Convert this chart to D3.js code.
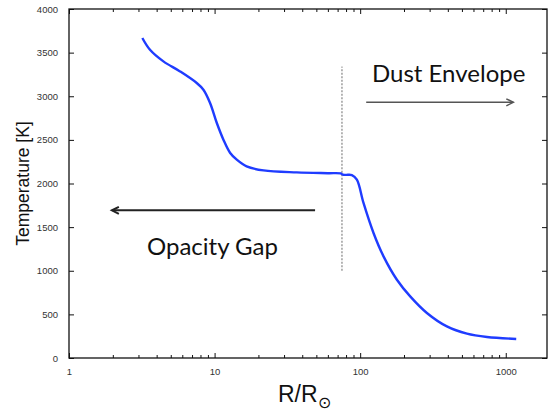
<!DOCTYPE html>
<html lang="en">
<head>
<meta charset="UTF-8">
<title>Temperature profile</title>
<script src="https://cdn.jsdelivr.net/npm/d3@7"></script>
<style>
  body { margin: 0; background: #fff; }
  svg text { font-family: "Liberation Sans", Arial, sans-serif; }
</style>
</head>
<body>
<script>
// radius (R/Rsun) and temperature (K)
const radius = [3.19, 3.6, 4.45, 5.79, 7.54, 8.38, 9.31, 10.36, 11.5, 12.8, 14.2, 16.6, 21.7, 36.7, 60, 73.5,
                76, 80, 87.7, 94.9, 105.4, 123.5, 144.7, 178.8, 220.6, 287.3, 394, 541, 743, 1180];
const temperature = [3668, 3533, 3400, 3285, 3152, 3075, 2923, 2693, 2502, 2350, 2273, 2196, 2150, 2127, 2118, 2115,
                     2101, 2099, 2097, 2044, 1777, 1433, 1165, 897, 706, 516, 362, 279, 241, 218];

const xMajor = [1, 10, 100, 1000];
const yTicks = [0, 500, 1000, 1500, 2000, 2500, 3000, 3500, 4000];

let width = 550;
let height = 412;
let margin = {top: 9, right: 3, bottom: 54, left: 69};

let svg = d3.select("body").append("svg")
    .attr("width", width)
    .attr("height", height);

const x = d3.scaleLog().domain([1, 1920]).range([margin.left, width - margin.right]);
const y = d3.scaleLinear().domain([0, 4000]).range([height - margin.bottom, margin.top]);

let xMinor = [];
[1, 10, 100].forEach(d => { for (let k = 2; k <= 9; k++) xMinor.push(d * k); });

const tickColor = "#111";

// bottom + top ticks
svg.append("g")
    .attr("transform", `translate(0,${y(0)})`)
    .call(d3.axisBottom(x).tickValues(xMajor).tickSize(-5).tickPadding(10).tickFormat(d3.format("d")))
    .call(g => g.select(".domain").remove());
svg.append("g")
    .attr("transform", `translate(0,${y(0)})`)
    .call(d3.axisBottom(x).tickValues(xMinor).tickSize(-3).tickFormat(""))
    .call(g => g.select(".domain").remove());
svg.append("g")
    .attr("transform", `translate(0,${y(4000)})`)
    .call(d3.axisTop(x).tickValues(xMajor).tickSize(-5).tickFormat(""))
    .call(g => g.select(".domain").remove());
svg.append("g")
    .attr("transform", `translate(0,${y(4000)})`)
    .call(d3.axisTop(x).tickValues(xMinor).tickSize(-3).tickFormat(""))
    .call(g => g.select(".domain").remove());

// left + right ticks
svg.append("g")
    .attr("transform", `translate(${x.range()[0]},0)`)
    .call(d3.axisLeft(y).tickValues(yTicks).tickSize(-5).tickPadding(11).tickFormat(d3.format("d")))
    .call(g => g.select(".domain").remove());
svg.append("g")
    .attr("transform", `translate(${x.range()[1]},0)`)
    .call(d3.axisRight(y).tickValues(yTicks).tickSize(-5).tickFormat(""))
    .call(g => g.select(".domain").remove());

svg.selectAll(".tick line").attr("stroke", tickColor);
svg.selectAll(".tick text")
    .attr("fill", "#333")
    .style("font-size", "9.5px")
    .style("font-family", "Liberation Sans, Arial, sans-serif");

// frame
svg.append("rect")
    .attr("x", x.range()[0])
    .attr("y", y(4000))
    .attr("width", x.range()[1] - x.range()[0])
    .attr("height", y(0) - y(4000))
    .attr("fill", "none")
    .attr("stroke", tickColor)
    .attr("stroke-width", 1.3);

// dashed divider
svg.append("line")
    .attr("x1", x(75)).attr("x2", x(75))
    .attr("y1", y(1000)).attr("y2", y(3340))
    .attr("stroke", "#444")
    .attr("stroke-width", 0.8)
    .attr("stroke-dasharray", "2,1.5");

// curve
const line = d3.line()
    .x((d, i) => x(radius[i]))
    .y((d, i) => y(temperature[i]))
    .curve(d3.curveCatmullRom.alpha(0.5));

svg.append("path")
    .datum(radius)
    .attr("d", line)
    .attr("fill", "none")
    .attr("stroke", "#1f3cff")
    .attr("stroke-width", 2.4);

// arrows
function arrow(x1, x2, yv, color, w) {
    svg.append("line")
        .attr("x1", x(x1)).attr("x2", x(x2))
        .attr("y1", y(yv)).attr("y2", y(yv))
        .attr("stroke", color).attr("stroke-width", w);
    let dir = x2 > x1 ? -1 : 1;
    let px = x(x2), py = y(yv);
    svg.append("path")
        .attr("d", `M${px + dir * 7},${py - 3.5} L${px},${py} L${px + dir * 7},${py + 3.5}`)
        .attr("fill", "none").attr("stroke", color).attr("stroke-width", w);
}
arrow(110, 1127, 2930, "#555", 1.5);
arrow(49, 1.97, 1692, "#222", 2);

// annotations
svg.append("text")
    .attr("x", 372).attr("y", 82)
    .style("font-family", "Lato, 'Open Sans', sans-serif")
    .style("font-size", "24px")
    .attr("fill", "#111")
    .text("Dust Envelope");
svg.append("text")
    .attr("x", 147).attr("y", 255)
    .style("font-family", "Lato, 'Open Sans', sans-serif")
    .style("font-size", "24px")
    .attr("fill", "#111")
    .text("Opacity Gap");

// axis titles
svg.append("text")
    .attr("transform", `translate(29,${(y(0) + y(4000)) / 2}) rotate(-90)`)
    .attr("text-anchor", "middle")
    .style("font-size", "17.5px")
    .attr("fill", "#111")
    .text("Temperature [K]");

let xt = svg.append("text")
    .attr("x", 278).attr("y", 402)
    .style("font-size", "23px")
    .attr("fill", "#111");
xt.append("tspan").text("R/R");
xt.append("tspan").attr("dy", 6).style("font-size", "16px").text("⊙");
</script>
</body>
</html>
